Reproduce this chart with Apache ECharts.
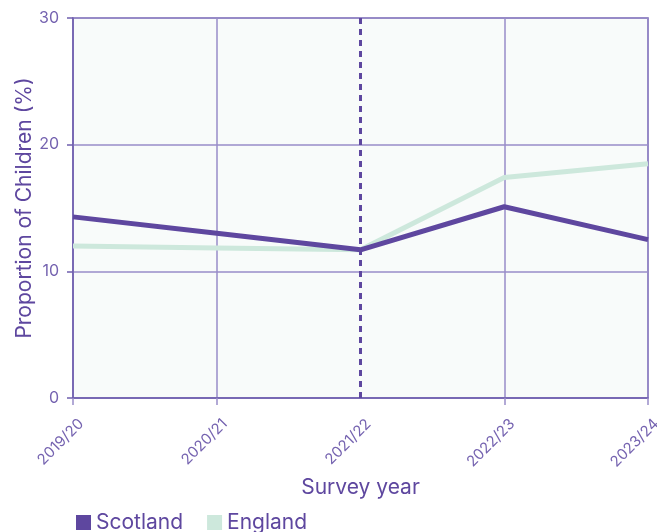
<!DOCTYPE html>
<html><head><meta charset="utf-8">
<script src="https://cdn.jsdelivr.net/npm/echarts@6/dist/echarts.min.js"></script>
<style>html,body{margin:0;padding:0;background:#fff}#c{width:657px;height:532px}</style>
</head><body><div id="c"></div>
<script>
const categories = ['2019/20','2020/21','2021/22','2022/23','2023/24'];
const scotland = [14.3, 13.0, 11.7, 15.1, 12.5];
const england = [12.0, 11.85, 11.7, 17.4, 18.5];
const yTicks = [0, 10, 20, 30];
const dashedAt = '2021/22';
const dashedIndex = categories.indexOf(dashedAt);

const purple = '#5e479f';
const green = '#cde8dc';
const labelCol = '#7563b0';
const gridCol = '#998dc9';
const axisCol = '#6f5fae';
const font = 'Inter';

const chart = echarts.init(document.getElementById('c'));
chart.setOption({
  animation: false,
  textStyle: {fontFamily: font},
  grid: {left: 73, right: 9, top: 18, bottom: 134, show: true, backgroundColor: '#f8fbfa',
         borderWidth: 1.5, borderColor: axisCol, containLabel: false, outerBoundsMode: 'none'},
  legend: {
    left: 71, bottom: -6, itemWidth: 15, itemHeight: 15, itemGap: 24, icon: 'rect',
    textStyle: {color: purple, fontSize: 21, fontFamily: font},
    data: [{name: 'Scotland', itemStyle: {color: purple}}, {name: 'England', itemStyle: {color: green}}]
  },
  xAxis: {
    type: 'category', data: categories, boundaryGap: false,
    name: 'Survey year', nameLocation: 'middle', nameGap: 79, nameMoveOverlap: false,
    nameTextStyle: {color: purple, fontSize: 21, fontFamily: font},
    axisLine: {lineStyle: {color: axisCol, width: 1.5}},
    axisTick: {show: true, length: 7, lineStyle: {color: gridCol, width: 1.5},
      interval: i => i !== dashedIndex},
    axisLabel: {rotate: 45, color: labelCol, fontSize: 15, margin: 21, fontFamily: font,
      align: 'right', verticalAlign: 'top', padding: [0, -4, 0, 0]},
    splitLine: {show: true, interval: i => i !== dashedIndex, lineStyle: {color: gridCol, width: 1.5}}
  },
  yAxis: {
    type: 'value', min: 0, max: 30, interval: 10,
    name: 'Proportion of Children (%)', nameLocation: 'middle', nameGap: 38, nameMoveOverlap: false,
    nameTextStyle: {color: purple, fontSize: 21, fontFamily: font},
    axisLine: {show: true, lineStyle: {color: axisCol, width: 1.5}},
    axisTick: {show: true, length: 6, lineStyle: {color: axisCol, width: 1.5}},
    axisLabel: {color: labelCol, fontSize: 16, margin: 14, fontFamily: font,
      formatter: v => yTicks.includes(v) ? String(v) : ''},
    splitLine: {show: true, lineStyle: {color: gridCol, width: 1.5}}
  },
  series: [
    {name: 'Scotland', type: 'line', data: scotland, symbol: 'none', z: 3,
     lineStyle: {color: purple, width: 5}, itemStyle: {color: purple},
     markLine: {silent: true, symbol: 'none', label: {show: false},
       lineStyle: {color: purple, type: [6, 5], width: 3},
       data: [{xAxis: dashedAt}]}},
    {name: 'England', type: 'line', data: england, symbol: 'none', z: 2,
     lineStyle: {color: green, width: 5}, itemStyle: {color: green}}
  ]
});
</script></body></html>
